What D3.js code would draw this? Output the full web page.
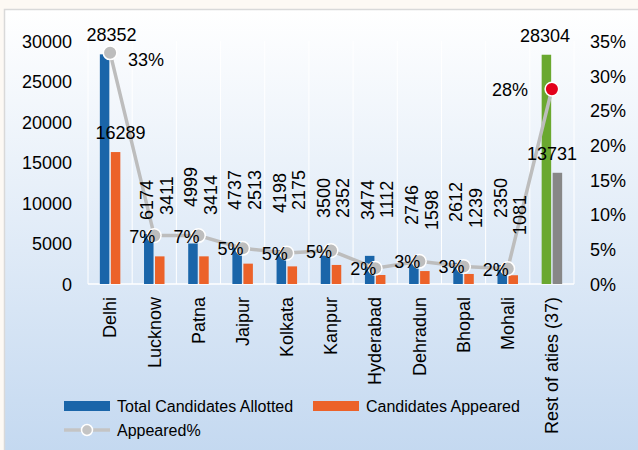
<!DOCTYPE html>
<html>
<head>
<meta charset="utf-8">
<script src="https://cdn.jsdelivr.net/npm/d3@7/dist/d3.min.js"></script>
<style>
  html, body { margin: 0; padding: 0; background: #fdf9f4; }
  svg { display: block; font-family: "Liberation Sans", Arial, sans-serif; }
</style>
</head>
<body>
<svg id="chart" width="638" height="450"></svg>
<script>
const cities = ['Delhi', 'Lucknow', 'Patna', 'Jaipur', 'Kolkata', 'Kanpur',
  'Hyderabad', 'Dehradun', 'Bhopal', 'Mohali', 'Rest of aties (37)'];
const allotted = [28352, 6174, 4999, 4737, 4198, 3500, 3474, 2746, 2612, 2350, 28304];
const appeared = [16289, 3411, 3414, 2513, 2175, 2352, 1112, 1598, 1239, 1081, 13731];
const appearedPct = [33.3, 6.97, 6.98, 5.14, 4.45, 4.81, 2.27, 3.27, 2.53, 2.21, 28.07];
const pctLabels = ['33%', '7%', '7%', '5%', '5%', '5%', '2%', '3%', '3%', '2%', '28%'];
const countTicks = [0, 5000, 10000, 15000, 20000, 25000, 30000];
const pctTicks = [0, 5, 10, 15, 20, 25, 30, 35];

// where the rotated value labels start (label layout, not data)
const allotLabelBottom = [null, 220, 207, 210, 213, 218, 220, 225, 222, 218, null];
const appearLabelBottom = [null, 215, 215, 210, 210, 218, 218, 230, 228, 235, null];

const svg = d3.select('#chart');
const plot = {left: 88, right: 574, top: 41, bottom: 284};

// background panel
const defs = svg.append('defs');
const grad = defs.append('linearGradient')
  .attr('id', 'bg').attr('x1', 0).attr('y1', 0).attr('x2', 0).attr('y2', 1);
grad.append('stop').attr('offset', '0%').attr('stop-color', '#ffffff');
grad.append('stop').attr('offset', '100%').attr('stop-color', '#c3d8f0');

svg.append('rect')
  .attr('x', 4.5).attr('y', 9.5)
  .attr('width', 640).attr('height', 450)
  .attr('fill', 'url(#bg)')
  .attr('stroke', '#d9d9d9')
  .attr('stroke-width', 1.5);

const x = d3.scaleBand()
  .domain(cities)
  .range([plot.left, plot.right]);

const xSub = d3.scaleBand()
  .domain(['allotted', 'appeared'])
  .range([0, x.bandwidth()])
  .paddingInner(0.136)
  .paddingOuter(1.077);

const y = d3.scaleLinear()
  .domain([0, 30000])
  .range([plot.bottom, plot.top]);

const yPct = d3.scaleLinear()
  .domain([0, 35])
  .range([plot.bottom, plot.top]);

const cx = (i) => x(cities[i]) + x.bandwidth() / 2;

// vertical grid lines on category boundaries
const grid = svg.append('g').attr('class', 'grid');
grid.selectAll('line')
  .data(d3.range(cities.length + 1))
  .enter().append('line')
  .attr('x1', (d) => plot.left + d * x.step())
  .attr('x2', (d) => plot.left + d * x.step())
  .attr('y1', plot.top)
  .attr('y2', plot.bottom)
  .attr('stroke', '#ffffff')
  .attr('stroke-width', 1);

grid.append('line')
  .attr('x1', plot.left).attr('x2', plot.right)
  .attr('y1', plot.bottom).attr('y2', plot.bottom)
  .attr('stroke', '#ffffff')
  .attr('stroke-width', 1.5);

// axes
const yAxis = svg.append('g')
  .attr('transform', 'translate(' + plot.left + ',0)')
  .call(d3.axisLeft(y).tickValues(countTicks).tickSize(0).tickPadding(16)
    .tickFormat(d3.format('d')));

const yAxisRight = svg.append('g')
  .attr('transform', 'translate(' + plot.right + ',0)')
  .call(d3.axisRight(yPct).tickValues(pctTicks).tickSize(0).tickPadding(16)
    .tickFormat((d) => d + '%'));

[yAxis, yAxisRight].forEach((g) => {
  g.select('.domain').remove();
  g.selectAll('text')
    .attr('dy', '0.35em')
    .style('font-size', '18px')
    .style('font-family', '"Liberation Sans", Arial, sans-serif')
    .attr('fill', '#000');
});

// bars
const last = cities.length - 1;
const bars = svg.append('g').attr('class', 'bars');

bars.selectAll('.allot')
  .data(allotted)
  .enter().append('rect')
  .attr('class', 'allot')
  .attr('x', (d, i) => x(cities[i]) + xSub('allotted'))
  .attr('width', xSub.bandwidth())
  .attr('y', (d) => y(d))
  .attr('height', (d) => y(0) - y(d))
  .attr('fill', (d, i) => i === last ? '#6aa82f' : '#1a65a9');

bars.selectAll('.appear')
  .data(appeared)
  .enter().append('rect')
  .attr('class', 'appear')
  .attr('x', (d, i) => x(cities[i]) + xSub('appeared'))
  .attr('width', xSub.bandwidth())
  .attr('y', (d) => y(d))
  .attr('height', (d) => y(0) - y(d))
  .attr('fill', (d, i) => i === last ? '#878787' : '#ec6229');

// appeared% line
const line = d3.line()
  .x((d, i) => cx(i))
  .y((d) => yPct(d));

svg.append('path')
  .datum(appearedPct)
  .attr('d', line)
  .attr('fill', 'none')
  .attr('stroke', '#bdbdbd')
  .attr('stroke-width', 3.5);

svg.append('g').selectAll('circle')
  .data(appearedPct)
  .enter().append('circle')
  .attr('cx', (d, i) => cx(i))
  .attr('cy', (d) => yPct(d))
  .attr('r', 6.8)
  .attr('fill', (d, i) => i === last ? '#e3001b' : '#bdbdbd')
  .attr('stroke', '#ffffff')
  .attr('stroke-width', 1.5);

// value labels
const labels = svg.append('g')
  .style('font-size', '18px')
  .attr('fill', '#000');

const horizDx = {allot: [1.5, -7], appear: [10.5, 0]};

function valueLabels(values, bottoms, rotDx, key) {
  values.forEach((v, i) => {
    if (i === 0 || i === last) {
      labels.append('text')
        .attr('x', cx(i) + horizDx[key][i === 0 ? 0 : 1])
        .attr('y', y(v) - 13)
        .attr('text-anchor', 'middle')
        .text(v);
    } else {
      labels.append('text')
        .attr('transform', 'translate(' + (cx(i) + rotDx) + ',' + bottoms[i] + ') rotate(-90)')
        .attr('dy', '0.35em')
        .attr('text-anchor', 'start')
        .text(v);
    }
  });
}
valueLabels(allotted, allotLabelBottom, -7.5, 'allot');
valueLabels(appeared, appearLabelBottom, 12, 'appear');

// percent labels
labels.selectAll('.pct')
  .data(appearedPct)
  .enter().append('text')
  .attr('class', 'pct')
  .attr('x', (d, i) => i === 0 ? cx(i) + 18 : (i === last ? cx(i) - 24 : cx(i) + 1))
  .attr('y', (d, i) => yPct(d) + (i === 0 ? 13 : 7))
  .attr('text-anchor', (d, i) => i === 0 ? 'start' : 'end')
  .text((d, i) => pctLabels[i]);

// category labels
svg.append('g').selectAll('text')
  .data(cities)
  .enter().append('text')
  .attr('transform', (d, i) => 'translate(' + cx(i) + ',297) rotate(-90)')
  .attr('dy', '0.35em')
  .attr('text-anchor', 'end')
  .style('font-size', '18px')
  .attr('fill', '#000')
  .text((d) => d);

// legend
const legend = svg.append('g').style('font-size', '16px').attr('fill', '#000');

legend.append('rect')
  .attr('x', 64).attr('y', 401).attr('width', 46).attr('height', 10)
  .attr('fill', '#1a65a9');
legend.append('text')
  .attr('x', 117).attr('y', 406).attr('dy', '0.35em')
  .text('Total Candidates Allotted');

legend.append('rect')
  .attr('x', 313).attr('y', 401).attr('width', 46).attr('height', 10)
  .attr('fill', '#ec6229');
legend.append('text')
  .attr('x', 366).attr('y', 406).attr('dy', '0.35em')
  .text('Candidates Appeared');

legend.append('line')
  .attr('x1', 64).attr('x2', 110).attr('y1', 430).attr('y2', 430)
  .attr('stroke', '#c4c4c4').attr('stroke-width', 3.5);
legend.append('circle')
  .attr('cx', 87).attr('cy', 430).attr('r', 5.5)
  .attr('fill', '#c4c4c4').attr('stroke', '#ffffff').attr('stroke-width', 1.5);
legend.append('text')
  .attr('x', 117).attr('y', 430).attr('dy', '0.35em')
  .text('Appeared%');
</script>
</body>
</html>
